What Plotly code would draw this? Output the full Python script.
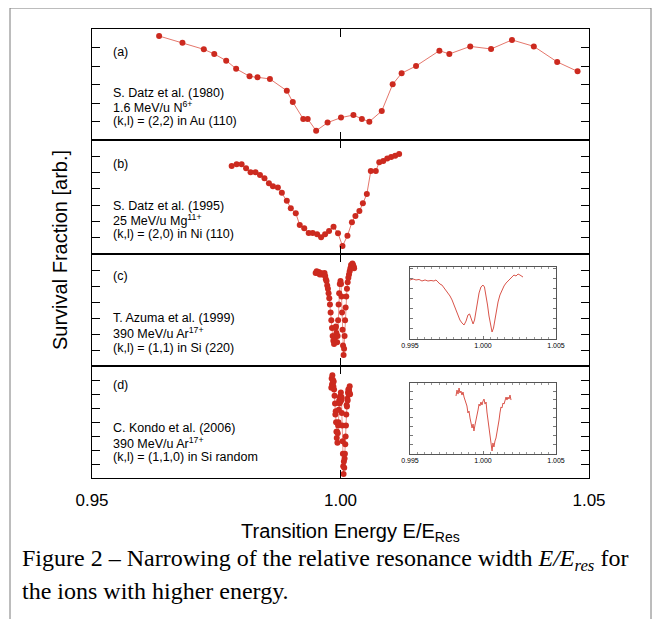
import plotly.graph_objects as go

# ---------------- data ----------------
# (a) S. Datz et al. (1980)
a_E = [0.9635, 0.9682, 0.9725, 0.9746, 0.9770, 0.9790, 0.9817, 0.9833, 0.9858, 0.9892,
       0.9904, 0.9925, 0.9934, 0.9951, 0.9974, 1.0001, 1.0026, 1.0043, 1.0058, 1.0083,
       1.0105, 1.0123, 1.0152, 1.0199, 1.0219, 1.0261, 1.0303, 1.0345, 1.0389, 1.0436, 1.0477]
a_S = [5.62, 5.26, 4.90, 4.65, 4.29, 3.85, 3.44, 3.39, 3.30, 2.66,
       2.05, 1.14, 1.14, 0.50, 0.94, 1.21, 1.35, 1.14, 0.99, 1.57,
       3.01, 3.61, 4.00, 4.83, 4.65, 5.06, 4.92, 5.41, 5.06, 4.22, 3.71]

# (b) S. Datz et al. (1995)
b_E = [0.9781, 0.9791, 0.9801, 0.9810, 0.9819, 0.9829, 0.9838, 0.9847, 0.9856, 0.9864,
       0.9874, 0.9882, 0.9892, 0.9900, 0.9910, 0.9918, 0.9927, 0.9936, 0.9944, 0.9953,
       0.9961, 0.9969, 0.9977, 0.9986, 0.9995, 1.0004, 1.0014, 1.0023, 1.0030, 1.0038,
       1.0045, 1.0053, 1.0061, 1.0071, 1.0078, 1.0086, 1.0094, 1.0102, 1.0110, 1.0118]
b_S = [5.40, 5.51, 5.51, 5.26, 5.02, 5.02, 4.85, 4.65, 4.34, 4.16,
       4.09, 3.76, 3.27, 2.81, 2.50, 1.78, 1.58, 1.29, 1.29, 1.21,
       1.03, 1.21, 1.41, 1.68, 1.27, 0.49, 1.12, 1.95, 2.33, 2.64,
       3.11, 3.68, 5.10, 5.10, 5.63, 5.71, 5.87, 5.95, 6.03, 6.14]

# (c) T. Azuma et al. (1999)
c_E = [0.99500, 0.99521, 0.99541, 0.99562, 0.99582, 0.99603, 0.99623, 0.99644, 0.99664, 0.99678,
       0.99692, 0.99705, 0.99719, 0.99733, 0.99747, 0.99760, 0.99774, 0.99788, 0.99801, 0.99815,
       0.99829, 0.99842, 0.99856, 0.99870, 0.99884, 0.99897, 0.99908, 0.99918, 0.99932, 0.99942,
       0.99952, 0.99962, 0.99973, 0.99986, 1.00000, 1.00010, 1.00021, 1.00031, 1.00041, 1.00051,
       1.00062, 1.00072, 1.00082, 1.00092, 1.00103, 1.00116, 1.00130, 1.00144, 1.00158, 1.00171,
       1.00185, 1.00199, 1.00212, 1.00226, 1.00240, 1.00253, 1.00267, 1.00274]
c_S = [5.82, 5.92, 5.82, 5.87, 5.72, 5.82, 5.72, 5.77, 5.72, 5.82,
       5.62, 5.42, 5.32, 5.03, 4.83, 4.54, 4.24, 3.85, 3.35, 2.86,
       2.37, 1.87, 1.58, 1.38, 1.77, 2.37, 2.47, 2.07, 1.48, 1.87,
       2.86, 3.85, 4.54, 5.13, 5.32, 5.13, 4.34, 3.35, 2.27, 1.28,
       0.69, 1.08, 1.87, 2.86, 3.65, 4.34, 4.83, 5.23, 5.52, 5.72,
       5.92, 6.11, 6.31, 6.21, 6.41, 6.31, 6.21, 6.11]

# (d) C. Kondo et al. (2006)
d_E = [0.99815, 0.99822, 0.99829, 0.99836, 0.99842, 0.99849, 0.99856, 0.99863, 0.99870, 0.99880,
       0.99890, 0.99897, 0.99904, 0.99911, 0.99918, 0.99925, 0.99932, 0.99938, 0.99945, 0.99952,
       0.99959, 0.99966, 0.99973, 0.99979, 0.99986, 0.99993, 1.00000, 1.00007, 1.00014, 1.00021,
       1.00027, 1.00034, 1.00041, 1.00048, 1.00055, 1.00062, 1.00068, 1.00075, 1.00082, 1.00089,
       1.00096, 1.00103, 1.00110, 1.00116, 1.00123, 1.00130, 1.00137, 1.00144, 1.00151, 1.00158,
       1.00164, 1.00171, 1.00178, 1.00185, 1.00192]
d_S = [6.44, 7.11, 6.66, 7.34, 6.78, 7.00, 6.55, 6.89, 6.33, 5.88,
       5.32, 4.54, 4.76, 3.98, 3.30, 2.86, 3.30, 2.52, 3.19, 3.75,
       3.98, 4.87, 5.54, 5.32, 5.77, 5.43, 5.88, 6.10, 5.54, 5.77,
       4.65, 3.75, 2.63, 1.74, 0.84, 0.28, 1.18, 0.73, 1.40, 1.74,
       2.41, 2.97, 3.75, 4.54, 5.21, 5.10, 5.66, 5.54, 6.10, 6.33,
       5.99, 6.33, 6.10, 6.55, 5.99]

x_tick_vals = [0.95, 1.00, 1.05]
x_tick_text = ["0.95", "1.00", "1.05"]
x_minor_vals = [round(0.95 + 0.005 * i, 3) for i in range(21)]
inset_tick_vals = [0.995, 1.000, 1.005]
inset_tick_text = ["0.995", "1.000", "1.005"]

panel_labels = ["(a)", "(b)", "(c)", "(d)"]
panel_texts = [
    ["S. Datz et al. (1980)", "1.6 MeV/u N<sup>6+</sup>", "(k,l) = (2,2) in Au (110)"],
    ["S. Datz et al. (1995)", "25 MeV/u Mg<sup>11+</sup>", "(k,l) = (2,0) in Ni (110)"],
    ["T. Azuma et al. (1999)", "390 MeV/u Ar<sup>17+</sup>", "(k,l) = (1,1) in Si (220)"],
    ["C. Kondo et al. (2006)", "390 MeV/u Ar<sup>17+</sup>", "(k,l) = (1,1,0) in Si random"],
]

# ---------------- layout geometry (window pixel coordinates) ----------------
BODY = 8                      # default page margin of the html body
W, H = 660 - BODY, 619 - BODY
L, R, T, B = 92, 589, 29, 478
PW, PH = R - L, B - T


def px(x):
    return (x - L) / PW


def py(y):
    return (B - y) / PH


panel_px = [(29, 140), (140, 254), (254, 366), (366, 478)]
panel_dom = [[py(b), py(t)] for t, b in panel_px]
panel_yr = [[0, 6], [0, 7], [0, 7], [0, 8]]

RED = "#cc2a1f"
LRED = "#e5776c"
SANS = "Liberation Sans, Arial, Helvetica, sans-serif"

fig = go.Figure()

series = [(a_E, a_S), (b_E, b_S), (c_E, c_S), (d_E, d_S)]
for i, (ex, sy) in enumerate(series):
    sfx = "" if i == 0 else str(i + 1)
    fig.add_trace(go.Scatter(
        x=ex, y=sy, mode="lines+markers", xaxis="x" + sfx, yaxis="y" + sfx,
        marker=dict(color=RED, size=6, line=dict(width=0)),
        line=dict(color=LRED, width=1 if i < 2 else 0.8),
        showlegend=False, hoverinfo="skip"))

# insets
fig.add_trace(go.Scatter(x=c_E, y=c_S, mode="lines", xaxis="x6", yaxis="y6",
                         line=dict(color="#d9544a", width=1), showlegend=False, hoverinfo="skip"))
fig.add_trace(go.Scatter(x=d_E, y=d_S, mode="lines", xaxis="x7", yaxis="y7",
                         line=dict(color="#d9544a", width=1), showlegend=False, hoverinfo="skip"))

layout = dict(
    width=W, height=H, autosize=False,
    margin=dict(l=L - BODY, r=660 - R, t=T - BODY, b=619 - B, pad=0),
    paper_bgcolor="white", plot_bgcolor="white",
    font=dict(family=SANS, color="black"),
)

for i in range(4):
    sfx = "" if i == 0 else str(i + 1)
    xa = dict(domain=[0, 1], anchor="y" + sfx, range=[0.95, 1.05],
              showgrid=False, zeroline=False, showline=True, linecolor="black",
              linewidth=1.2, mirror="ticks", ticks="inside", ticklen=8, tickwidth=1,
              tickcolor="black", tickvals=x_tick_vals, ticktext=x_tick_text,
              showticklabels=(i == 3), fixedrange=True)
    if i == 3:
        xa.update(tickfont=dict(size=17, family=SANS), ticklabelstandoff=6)
    else:
        xa.update(matches="x4")
    ya = dict(domain=panel_dom[i], anchor="x" + sfx, range=panel_yr[i],
              showgrid=False, zeroline=False, showline=True, linecolor="black",
              linewidth=1.2, mirror="ticks", ticks="inside", ticklen=8, tickwidth=1,
              tickcolor="black", tickvals=list(range(1, panel_yr[i][1])),
              showticklabels=False, fixedrange=True)
    layout["xaxis" + sfx] = xa
    layout["yaxis" + sfx] = ya

# minor ticks along the top of (a) and bottom of (d)
layout["xaxis5"] = dict(overlaying="x", anchor="y", side="top", range=[0.95, 1.05],
                        showgrid=False, zeroline=False, showline=False, ticks="inside",
                        ticklen=4, tickwidth=1, tickcolor="black", tickvals=x_minor_vals,
                        showticklabels=False)
layout["xaxis8"] = dict(overlaying="x4", anchor="y4", side="bottom", range=[0.95, 1.05],
                        showgrid=False, zeroline=False, showline=False, ticks="inside",
                        ticklen=4, tickwidth=1, tickcolor="black", tickvals=x_minor_vals,
                        showticklabels=False)

inset_x_dom = [px(410), px(556)]
inset_doms = [[py(339), py(267)], [py(453.5), py(383)]]
inset_yr = [[0, 7.1], [0, 7.9]]
for k, (xs, ys) in enumerate([("6", "6"), ("7", "7")]):
    layout["xaxis" + xs] = dict(domain=inset_x_dom, anchor="y" + ys, range=[0.995, 1.005],
                                showgrid=False, zeroline=False, showline=True, linecolor="#555",
                                linewidth=1, mirror="ticks", ticks="inside", ticklen=3,
                                tickwidth=0.8, tickcolor="#777", tickvals=inset_tick_vals,
                                ticktext=inset_tick_text, tickfont=dict(size=7, color="black"),
                                minor=dict(dtick=0.0005, ticks="inside", ticklen=2,
                                           tickcolor="#999", tickwidth=0.6),
                                fixedrange=True)
    layout["yaxis" + ys] = dict(domain=inset_doms[k], anchor="x" + xs, range=inset_yr[k],
                                showgrid=False, zeroline=False, showline=True, linecolor="#555",
                                linewidth=1, mirror="ticks", ticks="inside", ticklen=3,
                                tickwidth=0.8, tickcolor="#777", dtick=1,
                                showticklabels=False, fixedrange=True)

fig.update_layout(**layout)

# panel annotations
label_y = [52, 164, 276, 385]
text_y = [[93, 107, 121], [206, 220, 234], [318, 333, 348], [428, 443, 457]]
for i in range(4):
    fig.add_annotation(x=px(111), y=py(label_y[i]), xref="paper", yref="paper",
                       text=panel_labels[i], showarrow=False, xanchor="left", yanchor="middle",
                       font=dict(size=12.5, family=SANS))
    for j, t in enumerate(panel_texts[i]):
        fig.add_annotation(x=px(111), y=py(text_y[i][j]), xref="paper", yref="paper",
                           text=t, showarrow=False, xanchor="left", yanchor="middle",
                           font=dict(size=12.5, family=SANS))

# axis titles
fig.add_annotation(x=px(60), y=py(250), xref="paper", yref="paper",
                   text="Survival Fraction [arb.]", textangle=-90, showarrow=False,
                   xanchor="center", yanchor="middle", font=dict(size=20, family=SANS))
fig.add_annotation(x=px(350), y=py(532), xref="paper", yref="paper",
                   text="Transition Energy E/E<sub>Res</sub>", showarrow=False,
                   xanchor="center", yanchor="middle", font=dict(size=20, family=SANS))

# caption
SERIF = "Liberation Serif, Times New Roman, serif"
fig.add_annotation(x=px(20), y=py(560), xref="paper", yref="paper",
                   text="Figure 2 – Narrowing of the relative resonance width <i>E/E<sub>res</sub></i> for",
                   showarrow=False, xanchor="left", yanchor="middle",
                   font=dict(size=24, family=SERIF))
fig.add_annotation(x=px(20), y=py(591), xref="paper", yref="paper",
                   text="the ions with higher energy.", showarrow=False,
                   xanchor="left", yanchor="middle", font=dict(size=24, family=SERIF))

# page frame and side marker
fig.add_shape(type="rect", xref="paper", yref="paper", x0=px(10), x1=px(651),
              y0=py(640), y1=py(8), line=dict(color="#7a7a7a", width=1), layer="below")
fig.add_shape(type="rect", xref="paper", yref="paper", x0=px(653), x1=px(661),
              y0=py(100), y1=py(80), line=dict(width=0), fillcolor="#a8a8a8")

fig.write_html("out.html")
